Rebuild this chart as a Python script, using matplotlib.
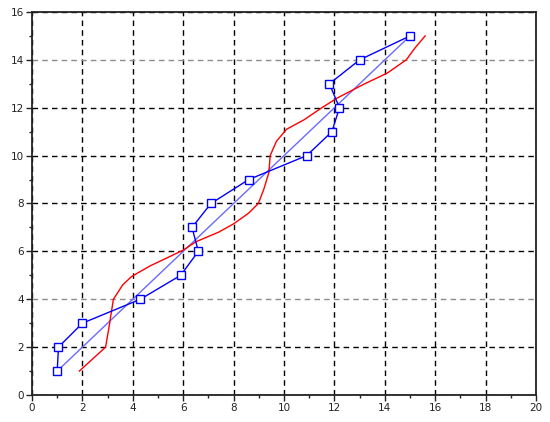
import matplotlib
matplotlib.use('Agg')
import matplotlib.pyplot as plt
from matplotlib.ticker import MultipleLocator

# blue data points (open squares), joined in order
pts_x = [1.0, 1.05, 2.0, 4.3, 5.9, 6.6, 6.35, 7.1, 8.6, 10.9, 11.9, 12.2, 11.8, 13.0, 15.0]
pts_y = [1.0, 2.0, 3.0, 4.0, 5.0, 6.0, 7.0, 8.0, 9.0, 10.0, 11.0, 12.0, 13.0, 14.0, 15.0]

# thin blue trend line
fit_x = [1.0, 15.0]
fit_y = [1.0, 15.0]

# red curve
red_x = [1.88, 2.4, 2.92, 3.05, 3.23, 3.6, 3.95, 4.7, 5.5, 6.0, 6.5, 7.4, 8.0, 8.6,
         8.98, 9.2, 9.4, 9.45, 9.7, 10.1, 10.8, 11.5, 12.1, 13.2, 14.1, 14.85, 15.2, 15.6]
red_y = [1.0, 1.5, 2.0, 2.8, 4.0, 4.6, 4.95, 5.4, 5.8, 6.05, 6.4, 6.8, 7.15, 7.6,
         8.0, 8.6, 9.3, 10.0, 10.6, 11.1, 11.5, 12.0, 12.4, 13.0, 13.45, 14.0, 14.5, 15.0]

BLUE = '#0000ff'
LBLUE = '#6a6aff'
RED = '#ff0000'

fig = plt.figure(figsize=(5.5, 4.22), dpi=100, facecolor='white')
ax = fig.add_axes([0.0582, 0.064, 0.9164, 0.9076])

ax.set_xlim(0, 20)
ax.set_ylim(0, 16)
ax.xaxis.set_major_locator(MultipleLocator(2))
ax.yaxis.set_major_locator(MultipleLocator(2))
ax.xaxis.set_minor_locator(MultipleLocator(1))
ax.yaxis.set_minor_locator(MultipleLocator(1))

ax.grid(True, which='major', color='black', linestyle=(0, (4, 3)), lw=1.0)
# two of the horizontal grid lines look lighter in the original
for gl, v in zip(ax.yaxis.get_gridlines(), ax.get_yticks()):
    if v in (4, 14):
        gl.set_color('#8c8c8c')
ax.set_axisbelow(True)

ax.plot(fit_x, fit_y, color=LBLUE, lw=1.0, zorder=3)
ax.plot(red_x, red_y, color=RED, lw=1.0, zorder=3)
ax.plot(pts_x, pts_y, color=BLUE, lw=1.0, marker='s', ms=5.2,
        mfc='white', mec=BLUE, mew=1.0, zorder=4)

for s in ax.spines.values():
    s.set_color('#222222')
    s.set_linewidth(1.3)

ax.tick_params(which='major', direction='out', length=4, width=1, colors='#222222',
               labelsize=7.5, pad=2)
ax.tick_params(which='minor', direction='out', length=2, width=1, colors='#222222')

plt.savefig('out.png', dpi=100, facecolor='white')
plt.close()
